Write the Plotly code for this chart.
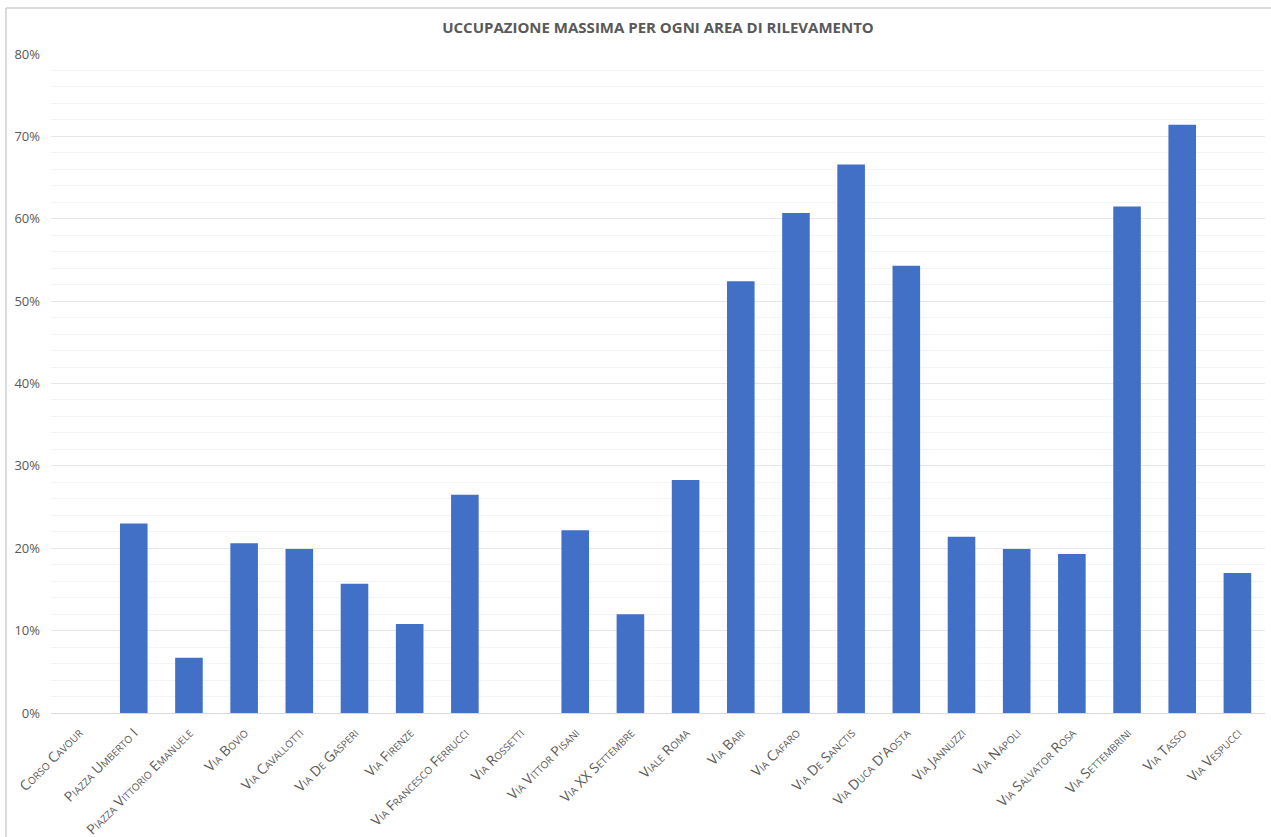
import plotly.graph_objects as go

categories = [
    "Corso Cavour", "Piazza Umberto I", "Piazza Vittorio Emanuele", "Via Bovio",
    "Via Cavallotti", "Via De Gasperi", "Via Firenze", "Via Francesco Ferrucci",
    "Via Rossetti", "Via Vittor Pisani", "Via XX Settembre", "Viale Roma",
    "Via Bari", "Via Cafaro", "Via De Sanctis", "Via Duca D'Aosta",
    "Via Jannuzzi", "Via Napoli", "Via Salvator Rosa", "Via Settembrini",
    "Via Tasso", "Via Vespucci",
]
occupancy = [
    0.0, 0.230, 0.067, 0.206, 0.199, 0.157, 0.108, 0.265,
    0.0, 0.222, 0.120, 0.283, 0.524, 0.607, 0.666, 0.543,
    0.214, 0.199, 0.193, 0.615, 0.714, 0.170,
]
y_ticks = [0, 0.1, 0.2, 0.3, 0.4, 0.5, 0.6, 0.7, 0.8]
y_tick_labels = ["0%", "10%", "20%", "30%", "40%", "50%", "60%", "70%", "80%"]
title_text = "UCCUPAZIONE MASSIMA PER OGNI AREA DI RILEVAMENTO"

fig = go.Figure()
fig.add_trace(go.Bar(
    x=categories,
    y=occupancy,
    marker=dict(color="#4170C6", line=dict(width=0)),
    hoverinfo="x+y",
))

fig.update_layout(
    width=1271,
    height=837,
    margin=dict(l=51, r=6, t=54, b=124, autoexpand=False),
    paper_bgcolor="white",
    plot_bgcolor="white",
    bargap=0.5,
    showlegend=False,
    title=dict(
        text="<b>" + title_text + "</b>",
        x=0.5, xanchor="center", xref="paper",
        y=1 - 28 / 837, yanchor="middle",
        font=dict(family="Open Sans, sans-serif", size=15, color="#595959"),
    ),
    font=dict(family="Open Sans, sans-serif", color="#595959"),
    xaxis=dict(
        type="category",
        tickangle=-45,
        tickfont=dict(family="Open Sans, sans-serif", size=14, color="#595959", variant="small-caps"),
        showgrid=False,
        showline=False,
        ticks="",
        zeroline=False,
        ticklabelstandoff=8,
        automargin=False,
    ),
    yaxis=dict(
        range=[0, 0.8],
        tickvals=y_ticks,
        ticktext=y_tick_labels,
        tickfont=dict(family="Open Sans, sans-serif", size=13, color="#595959"),
        showgrid=True,
        gridcolor="#E6E6E6",
        gridwidth=1,
        minor=dict(dtick=0.02, showgrid=True, gridcolor="#F4F4F4", gridwidth=1),
        zeroline=True,
        zerolinecolor="#DADADA",
        zerolinewidth=1,
        showline=False,
        ticks="",
        ticklabelstandoff=10,
        automargin=False,
    ),
    shapes=[
        dict(type="line", xref="paper", yref="paper",
             x0=-45 / 1214, x1=1.05, y0=1 + 46 / 659, y1=1 + 46 / 659,
             line=dict(color="#D0D0D0", width=1.5)),
        dict(type="line", xref="paper", yref="paper",
             x0=-45 / 1214, x1=-45 / 1214, y0=1 + 46 / 659, y1=-0.3,
             line=dict(color="#D0D0D0", width=1.5)),
    ],
)

fig.write_html(
    "out.html",
    config={"displayModeBar": False},
    post_script="document.body.style.margin='0';document.body.style.padding='0';",
)
